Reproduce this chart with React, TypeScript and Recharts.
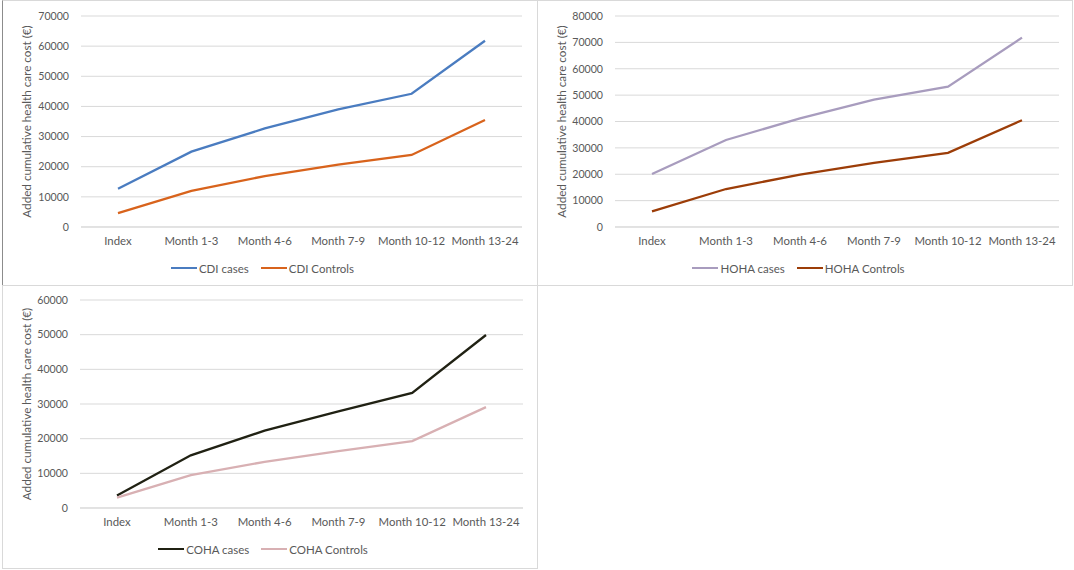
import { LineChart, Line, XAxis, YAxis, CartesianGrid, Legend } from 'recharts';

const categories = ['Index', 'Month 1-3', 'Month 4-6', 'Month 7-9', 'Month 10-12', 'Month 13-24'];

const cdiCases = [12700, 25000, 32700, 39000, 44200, 61800];
const cdiControls = [4600, 12000, 16900, 20700, 23900, 35500];
const hohaCases = [20100, 33000, 41200, 48300, 53200, 71800];
const hohaControls = [5900, 14400, 19900, 24300, 28100, 40500];
const cohaCases = [3600, 15200, 22300, 27900, 33200, 49900];
const cohaControls = [3000, 9500, 13300, 16400, 19300, 29100];

const cdiTicks = [0, 10000, 20000, 30000, 40000, 50000, 60000, 70000];
const hohaTicks = [0, 10000, 20000, 30000, 40000, 50000, 60000, 70000, 80000];
const cohaTicks = [0, 10000, 20000, 30000, 40000, 50000, 60000];

const FONT = 'Lato, "Open Sans", sans-serif';
const TEXT = '#595959';
const GRID = '#D9D9D9';

interface SeriesDef {
  name: string;
  values: number[];
  color: string;
}

interface PanelProps {
  series: SeriesDef[];
  ticks: number[];
  width: number;
  height: number;
  yWidth: number;
  margin: { top: number; right: number; bottom: number; left: number };
}

function LegendRow({ series }: { series: SeriesDef[] }) {
  return (
    <div
      style={{
        height: 28,
        paddingBottom: 6,
        boxSizing: 'border-box',
        display: 'flex',
        justifyContent: 'center',
        alignItems: 'center',
        fontFamily: FONT,
        fontSize: 11.5,
        color: TEXT,
      }}
    >
      {series.map((s) => (
        <div key={s.name} style={{ display: 'flex', alignItems: 'center', margin: '0 6px' }}>
          <div style={{ width: 26, height: 2.5, background: s.color, marginRight: 2 }} />
          <span>{s.name}</span>
        </div>
      ))}
    </div>
  );
}

function CostPanel({ series, ticks, width, height, yWidth, margin }: PanelProps) {
  const data = categories.map((c, i) => {
    const row: Record<string, string | number> = { category: c };
    series.forEach((s) => {
      row[s.name] = s.values[i];
    });
    return row;
  });

  return (
    <LineChart width={width} height={height} data={data} margin={margin}>
      <CartesianGrid vertical={false} stroke={GRID} />
      <XAxis
        dataKey="category"
        height={30}
        padding={{ left: 37, right: 37 }}
        tick={{ fontSize: 11.4, fill: TEXT, fontFamily: FONT }}
        axisLine={{ stroke: GRID }}
        tickLine={false}
        tickMargin={4}
        interval={0}
      />
      <YAxis
        width={yWidth}
        ticks={ticks}
        domain={[0, ticks[ticks.length - 1]]}
        tick={{ fontSize: 10.6, fill: TEXT, fontFamily: FONT }}
        axisLine={false}
        tickLine={false}
        tickMargin={6}
        label={{
          value: 'Added cumulative health care cost (€)',
          angle: -90,
          position: 'center',
          dx: -15,
          style: { fontSize: 11.7, fill: TEXT, fontFamily: FONT, textAnchor: 'middle' },
        }}
      />
      <Legend verticalAlign="bottom" content={() => <LegendRow series={series} />} />
      {series.map((s) => (
        <Line
          key={s.name}
          type="linear"
          dataKey={s.name}
          stroke={s.color}
          strokeWidth={2.3}
          dot={false}
          activeDot={false}
          isAnimationActive={false}
        />
      ))}
    </LineChart>
  );
}

const panelStyle = (left: number, top: number, w: number, h: number, borderLeft = GRID) => ({
  position: 'absolute' as const,
  left,
  top,
  width: w,
  height: h,
  boxSizing: 'border-box' as const,
  border: `1px solid ${GRID}`,
  borderLeft: `1.5px solid ${borderLeft}`,
  background: '#fff',
});

export default function App() {
  return (
    <div style={{ position: 'absolute', left: 0, top: 0, width: 1074, height: 570, background: '#fff' }}>
      <div style={panelStyle(2, 0, 536, 286, '#8C8C8C')}>
        <CostPanel
          series={[
            { name: 'CDI cases', values: cdiCases, color: '#4A7CC0' },
            { name: 'CDI Controls', values: cdiControls, color: '#D8631C' },
          ]}
          ticks={cdiTicks}
          width={534}
          height={284}
          yWidth={78}
          margin={{ top: 15, right: 15, bottom: 0, left: 0 }}
        />
      </div>
      <div style={panelStyle(537, 0, 536, 286)}>
        <CostPanel
          series={[
            { name: 'HOHA cases', values: hohaCases, color: '#A89CBE' },
            { name: 'HOHA Controls', values: hohaControls, color: '#9C3D08' },
          ]}
          ticks={hohaTicks}
          width={534}
          height={284}
          yWidth={77}
          margin={{ top: 15, right: 13, bottom: 0, left: 0 }}
        />
      </div>
      <div style={panelStyle(2, 285, 536, 284)}>
        <CostPanel
          series={[
            { name: 'COHA cases', values: cohaCases, color: '#202113' },
            { name: 'COHA Controls', values: cohaControls, color: '#D8B0B3' },
          ]}
          ticks={cohaTicks}
          width={534}
          height={282}
          yWidth={77}
          margin={{ top: 14, right: 14, bottom: 2, left: 0 }}
        />
      </div>
    </div>
  );
}
